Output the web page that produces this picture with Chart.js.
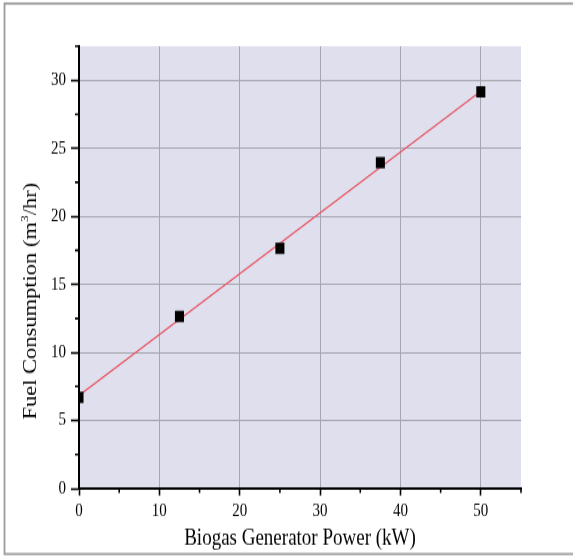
<!DOCTYPE html>
<html>
<head>
<meta charset="utf-8">
<script src="https://cdn.jsdelivr.net/npm/chart.js@4"></script>
<style>
  body { margin: 0; background: #fff; }
</style>
</head>
<body>
<!-- drawn short and stretched tall, like the original figure -->
<canvas id="fuel" width="573" height="445" style="width:573px;height:556px;display:block"></canvas>
<script>
// measured fuel use per generator load
const powerKW = [0, 12.5, 25, 37.5, 50];
const fuelUse = [6.7, 12.65, 17.65, 23.95, 29.15];

// linear fit line end points
const fitPowerKW = [0, 50];
const fitFuelUse = [6.85, 29.2];

// labelled ticks (the others are minor)
const xTickLabels = [0, 10, 20, 30, 40, 50];
const yTickLabels = [0, 5, 10, 15, 20, 25, 30];

const serif = '"Liberation Serif", "Times New Roman", serif';
const gridGrey = '#a6a6b0';
const clear = 'rgba(0,0,0,0)';

// lavender plot area + thin grey frame round the figure
const plotBack = {
  id: 'plotBack',
  beforeDraw(chart) {
    const {ctx, chartArea: a} = chart;
    ctx.save();
    ctx.fillStyle = '#dfdfee';
    ctx.fillRect(a.left, a.top, a.right - a.left, a.bottom - a.top);
    ctx.strokeStyle = '#9c9c9c';
    ctx.lineWidth = 1.8;
    ctx.strokeRect(4.5, 2.8, 620, 440.6);
    ctx.restore();
  }
};

// short outward ticks between the labelled ones
const minorTicks = {
  id: 'minorTicks',
  beforeDatasetsDraw(chart) {
    const {ctx, scales: {x, y}} = chart;
    ctx.save();
    ctx.strokeStyle = '#000';
    ctx.lineWidth = 1.6;
    ctx.beginPath();
    x.ticks.forEach(t => {
      if (xTickLabels.includes(t.value)) return;
      const px = x.getPixelForValue(t.value);
      ctx.moveTo(px, x.top);
      ctx.lineTo(px, x.top + 3.4);
    });
    y.ticks.forEach(t => {
      if (yTickLabels.includes(t.value)) return;
      const py = y.getPixelForValue(t.value);
      ctx.moveTo(y.right, py);
      ctx.lineTo(y.right - 4, py);
    });
    ctx.stroke();
    ctx.restore();
  }
};

// y title with the raised 3 of m3
const yTitle = {
  id: 'yTitle',
  afterDraw(chart) {
    const ctx = chart.ctx;
    const parts = [
      ['Fuel Consumption (m', '18px ' + serif, 0],
      ['3', '11px ' + serif, -6],
      ['/hr)', '18px ' + serif, 0]
    ];
    ctx.save();
    ctx.translate(31, 241);
    ctx.rotate(-Math.PI / 2);
    ctx.fillStyle = '#000';
    ctx.textBaseline = 'middle';
    ctx.textAlign = 'left';
    let total = 0;
    parts.forEach(p => { ctx.font = p[1]; total += ctx.measureText(p[0]).width; });
    let pos = -total / 2;
    parts.forEach(p => {
      ctx.font = p[1];
      ctx.fillText(p[0], pos, p[2]);
      pos += ctx.measureText(p[0]).width;
    });
    ctx.restore();
  }
};

function gridColor(labels) {
  return c => (c.tick && labels.includes(c.tick.value) && c.tick.value !== 0) ? gridGrey : clear;
}
function tickColor(labels) {
  return c => (c.tick && labels.includes(c.tick.value)) ? '#000' : clear;
}

new Chart(document.getElementById('fuel'), {
  type: 'scatter',
  data: {
    datasets: [
      {
        label: 'Fuel consumption',
        data: powerKW.map((p, i) => ({x: p, y: fuelUse[i]})),
        pointStyle: 'rect',
        pointRadius: 6.4,
        pointHoverRadius: 6.4,
        backgroundColor: '#000',
        borderColor: '#000',
        borderWidth: 0,
        clip: 0,
        order: 1
      },
      {
        label: 'Linear fit',
        type: 'line',
        data: fitPowerKW.map((p, i) => ({x: p, y: fitFuelUse[i]})),
        borderColor: '#e8525e',
        borderWidth: 1.2,
        pointRadius: 0,
        fill: false,
        order: 2
      }
    ]
  },
  options: {
    responsive: false,
    devicePixelRatio: 1,
    animation: false,
    layout: { padding: { top: 37, right: 52, left: 0, bottom: 0 } },
    plugins: { legend: { display: false }, tooltip: { enabled: false } },
    scales: {
      x: {
        type: 'linear',
        min: 0,
        max: 55,
        afterFit(s) { s.height = 54; },
        border: { display: true, color: '#000', width: 2 },
        grid: {
          color: gridColor(xTickLabels),
          lineWidth: 1,
          tickColor: tickColor(xTickLabels),
          tickLength: 5.6,
          tickWidth: 1.6
        },
        ticks: {
          stepSize: 5,
          autoSkip: false,
          maxRotation: 0,
          padding: 3,
          color: '#000',
          font: { family: serif, size: 15 },
          callback: v => xTickLabels.includes(v) ? v : ''
        },
        title: {
          display: true,
          text: 'Biogas Generator Power (kW)',
          color: '#000',
          font: { family: serif, size: 19 },
          padding: { top: 0, bottom: 3 }
        }
      },
      y: {
        type: 'linear',
        min: 0,
        max: 32.5,
        afterFit(s) { s.width = 79; },
        border: { display: true, color: '#000', width: 2 },
        grid: {
          color: gridColor(yTickLabels),
          lineWidth: 1,
          tickColor: tickColor(yTickLabels),
          tickLength: 8,
          tickWidth: 1.6
        },
        ticks: {
          stepSize: 2.5,
          autoSkip: false,
          padding: 5,
          color: '#000',
          font: { family: serif, size: 15 },
          callback: v => yTickLabels.includes(v) ? v : ''
        }
      }
    }
  },
  plugins: [plotBack, minorTicks, yTitle]
});
</script>
</body>
</html>
